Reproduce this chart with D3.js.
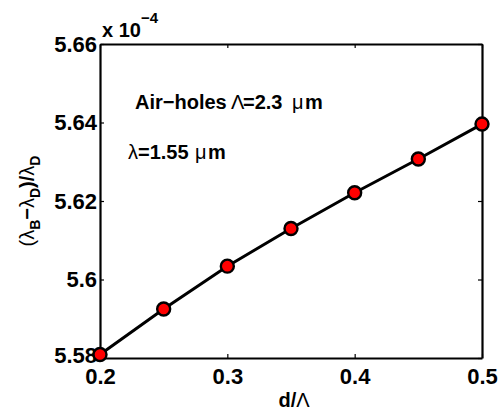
<!DOCTYPE html>
<html>
<head>
<meta charset="utf-8">
<script src="https://cdn.jsdelivr.net/npm/d3@7"></script>
<style>
  body { margin: 0; background: #fff; }
  text { font-family: Arial, "Liberation Sans", sans-serif; }
</style>
</head>
<body>
<div id="chart"></div>
<script>
// d/Lambda values and (lambdaB - lambdaD)/lambdaD in units of 1e-4
var ratios = [0.2, 0.25, 0.3, 0.35, 0.4, 0.45, 0.5];
var shifts = [5.5809, 5.5925, 5.6034, 5.6130, 5.6221, 5.6307, 5.6396];
var xTicks = [0.2, 0.3, 0.4, 0.5];
var yTicks = [5.58, 5.6, 5.62, 5.64, 5.66];

var width = 498, height = 411;
var margin = { left: 100, right: 16, top: 44, bottom: 53 };

var svg = d3.select("#chart").append("svg")
  .attr("width", width)
  .attr("height", height);

var x = d3.scaleLinear().domain([0.2, 0.5]).range([margin.left, width - margin.right]);
var y = d3.scaleLinear().domain([5.58, 5.66]).range([height - margin.bottom, margin.top]);

var plotH = y.range()[0] - y.range()[1];

// axes with inward ticks on all four sides
var fmtY = function(d) { return String(+d.toFixed(2)); };

svg.append("g")
  .attr("transform", "translate(0," + y.range()[0] + ")")
  .call(d3.axisBottom(x).tickValues(xTicks).tickSizeInner(-4).tickSizeOuter(0)
    .tickPadding(10).tickFormat(d3.format(".1f")));

svg.append("g")
  .attr("transform", "translate(" + margin.left + ",0)")
  .call(d3.axisLeft(y).tickValues(yTicks).tickSizeInner(-4).tickSizeOuter(0)
    .tickPadding(3).tickFormat(fmtY));

svg.append("g")
  .attr("transform", "translate(0," + y.range()[1] + ")")
  .call(d3.axisTop(x).tickValues(xTicks).tickSizeInner(-4).tickSizeOuter(0).tickFormat(""));

svg.append("g")
  .attr("transform", "translate(" + x.range()[1] + ",0)")
  .call(d3.axisRight(y).tickValues(yTicks).tickSizeInner(-4).tickSizeOuter(0).tickFormat(""));

svg.selectAll(".domain").attr("stroke", "#000").attr("stroke-width", 2.2);
svg.selectAll(".tick line").attr("stroke", "#000").attr("stroke-width", 1.2);
svg.selectAll(".tick text")
  .attr("font-size", 22)
  .attr("font-weight", "bold")
  .attr("fill", "#000")
  .attr("font-family", "Arial, 'Liberation Sans', sans-serif");

// the lowest y label sits a touch higher so it clears 0.2
svg.selectAll(".tick text").filter(function(d) { return d === 5.58; })
  .attr("dy", "0.2em");

// exponent label
var expo = svg.append("text")
  .attr("x", margin.left + 2)
  .attr("y", 37)
  .attr("font-size", 20)
  .attr("font-weight", "bold")
  .attr("fill", "#000");
expo.append("tspan").text("x 10");
expo.append("tspan").attr("dy", -14).attr("font-size", 15).text("\u22124");

// line and markers
var line = d3.line()
  .x(function(d, i) { return x(ratios[i]); })
  .y(function(d) { return y(d); });

svg.append("path")
  .datum(shifts)
  .attr("fill", "none")
  .attr("stroke", "#000")
  .attr("stroke-width", 3)
  .attr("d", line);

svg.selectAll("circle.pt")
  .data(shifts)
  .enter()
  .append("circle")
  .attr("class", "pt")
  .attr("cx", function(d, i) { return x(ratios[i]); })
  .attr("cy", function(d) { return y(d); })
  .attr("r", 6.5)
  .attr("fill", "#ff0000")
  .attr("stroke", "#000")
  .attr("stroke-width", 2.4);

// annotations (tex-like pieces placed one by one)
function texLine(yPos, pieces) {
  var t = svg.append("text").attr("y", yPos).attr("font-size", 20).attr("font-weight", "bold");
  pieces.forEach(function(p) {
    t.append("tspan").attr("x", p[0]).attr("font-weight", p[2] ? "normal" : "bold").text(p[1]);
  });
}
texLine(109, [[135, "Air\u2212holes"], [231, "\u039b", 1], [243, "=2.3"], [292, "\u03bc", 1], [305, "m"]]);
texLine(159, [[128, "\u03bb", 1], [138, "=1.55"], [195, "\u03bc", 1], [208, "m"]]);

// axis titles
var xt = svg.append("text")
  .attr("x", 294)
  .attr("y", 407)
  .attr("text-anchor", "middle")
  .attr("font-size", 20).attr("font-weight", "bold");
xt.append("tspan").text("d/");
xt.append("tspan").attr("font-weight", "normal").text("\u039b");

var yt = svg.append("text")
  .attr("transform", "translate(34," + (y.range()[1] + plotH / 2) + ") rotate(-90)")
  .attr("text-anchor", "middle")
  .attr("font-size", 20).attr("font-weight", "bold");
yt.append("tspan").attr("font-weight", "normal").text("(\u03bb");
yt.append("tspan").attr("dy", 6).attr("font-size", 14).text("B");
yt.append("tspan").attr("dy", -6).text("\u2212");
yt.append("tspan").attr("font-weight", "normal").text("\u03bb");
yt.append("tspan").attr("dy", 6).attr("font-size", 14).text("D");
yt.append("tspan").attr("dy", -6).text(")/");
yt.append("tspan").attr("font-weight", "normal").text("\u03bb");
yt.append("tspan").attr("dy", 6).attr("font-size", 14).text("D");
</script>
</body>
</html>
